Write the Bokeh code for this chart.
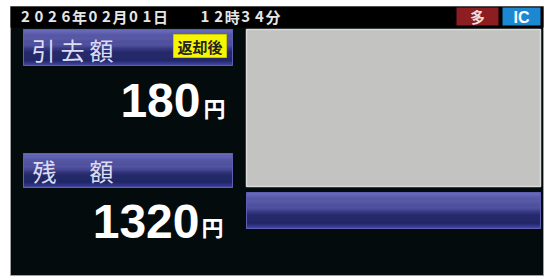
from bokeh.plotting import figure
from bokeh.models import Range1d
from bokeh.core.properties import value
from bokeh.embed import file_html
from bokeh.resources import INLINE

# ---- content ----
date_chars = "2026年02月01日"
time_chars = "12時34分"
label_fare = "引去額"
label_balance = "残　額"
badge_text = "返却後"
fare_amount = 180
balance_amount = 1320
currency = "円"
badge_multi = "多"
badge_ic = "IC"

CJK = "Noto Sans CJK JP"
LAT = "Liberation Sans"

p = figure(width=546, height=278, output_backend="svg", toolbar_location=None,
           x_range=Range1d(0, 546), y_range=Range1d(278, 0), min_border=0)
p.axis.visible = False
p.grid.visible = False
p.outline_line_color = None
p.background_fill_color = "white"
p.border_fill_color = "white"


def hexrgb(h):
    h = h.lstrip("#")
    return tuple(int(h[i:i + 2], 16) for i in (0, 2, 4))


def interp(stops, t):
    for (t0, c0), (t1, c1) in zip(stops[:-1], stops[1:]):
        if t0 <= t <= t1:
            f = 0 if t1 == t0 else (t - t0) / (t1 - t0)
            a, b = hexrgb(c0), hexrgb(c1)
            return "#%02x%02x%02x" % tuple(int(round(a[i] + (b[i] - a[i]) * f)) for i in range(3))
    return stops[-1][1]


BLUE_STOPS = [(0.00, "#7a7acb"), (0.07, "#6565b6"), (0.18, "#5c5cab"), (0.46, "#5151a0"),
              (0.54, "#3a3c86"), (0.62, "#292d70"), (0.86, "#24296a"), (0.94, "#33378a"),
              (1.00, "#4e4eae")]


def gradient_box(x0, x1, y0, y1, stops, n=30):
    L, R, T, B, C = [], [], [], [], []
    for k in range(n):
        t0, t1 = k / n, (k + 1) / n
        L.append(x0); R.append(x1)
        T.append(y0 + (y1 - y0) * t0); B.append(y0 + (y1 - y0) * t1)
        C.append(interp(stops, (t0 + t1) / 2))
    p.quad(left=L, right=R, top=T, bottom=B, fill_color=C, line_color=C, line_width=0.6)
    p.quad(left=[x0], right=[x1], top=[y0], bottom=[y1], fill_color=None,
           line_color="#5e5eb4", line_width=1)


# screen
p.quad(left=[10], right=[543], top=[6], bottom=[275], fill_color="#030b0d",
       line_color="#a0a0a0", line_width=1)
# top status bar
p.quad(left=[10], right=[543], top=[6], bottom=[27], fill_color="#000000", line_color=None)

# date / time
dx = [25 + 13.5 * i for i in range(len(date_chars))]
tx = [204.5 + 13.6 * i for i in range(len(time_chars))]
p.text(x=dx + tx, y=[16] * (len(dx) + len(tx)), text=list(date_chars) + list(time_chars),
       text_font=value(CJK), text_font_size="15px", text_font_style="bold",
       text_color="#e6e6e6", text_align="center", text_baseline="middle")

# badges top right
p.quad(left=[456], right=[498], top=[7], bottom=[25], fill_color="#8c1d20", line_color=None)
p.text(x=[477], y=[16], text=[badge_multi], text_font=value(CJK), text_font_size="15px",
       text_font_style="bold", text_color="#f2dede", text_align="center", text_baseline="middle")
p.quad(left=[502], right=[540], top=[7], bottom=[25], fill_color="#1c88d2", line_color=None)
p.text(x=[521], y=[16.5], text=[badge_ic], text_font=value(LAT), text_font_size="16px",
       text_font_style="bold", text_color="#ffffff", text_align="center", text_baseline="middle")

# gray panel
p.quad(left=[246], right=[540], top=[29], bottom=[186], fill_color="#c3c3c1",
       line_color="#dadad8", line_width=1.5)

# label boxes
gradient_box(23, 232, 29, 65, BLUE_STOPS)
gradient_box(23, 232, 153, 187, BLUE_STOPS)
gradient_box(246, 540, 192, 228, BLUE_STOPS)

# label texts
lx1 = [43 + 29 * i for i in range(len(label_fare))]
p.text(x=lx1, y=[49] * len(lx1), text=list(label_fare), text_font=value(CJK),
       text_font_size="24px", text_color="#dcdcf2", text_align="center", text_baseline="middle")
lx2 = [44 + 28.5 * i for i in range(len(label_balance))]
p.text(x=lx2, y=[170] * len(lx2), text=list(label_balance), text_font=value(CJK),
       text_font_size="24px", text_color="#dcdcf2", text_align="center", text_baseline="middle")

# yellow badge
p.quad(left=[173], right=[226], top=[34], bottom=[57], fill_color="#f6f600",
       line_color="#c9c900", line_width=1)
p.text(x=[199.5], y=[45.5], text=[badge_text], text_font=value(CJK), text_font_size="15px",
       text_font_style="bold", text_color="#222222", text_align="center", text_baseline="middle")

# amounts
p.text(x=[200, 199], y=[100, 221], text=[str(fare_amount), str(balance_amount)],
       text_font=value(LAT), text_font_size="48px", text_font_style="bold",
       text_color="#ffffff", text_align="right", text_baseline="middle")
p.text(x=[203, 201], y=[106, 225], text=[currency, currency], text_font=value(CJK),
       text_font_size="22px", text_font_style="bold", text_color="#ffffff",
       text_align="left", text_baseline="middle")

open("out.html", "w").write(file_html(p, INLINE))
